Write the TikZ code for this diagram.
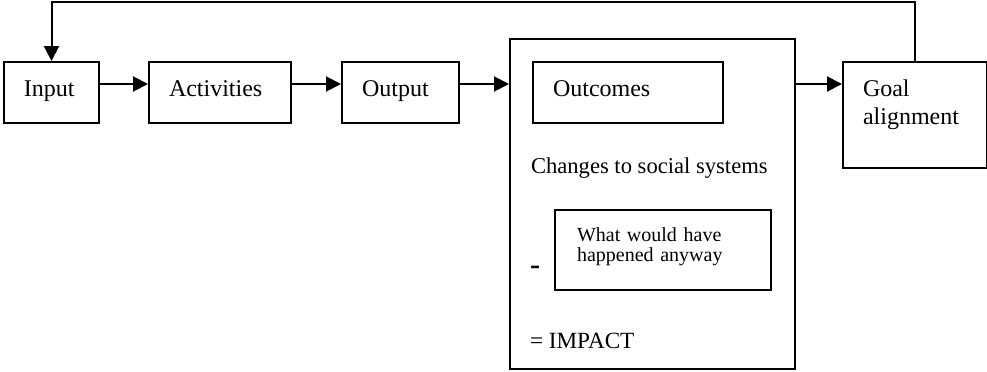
\documentclass[tikz,border=0pt]{standalone}
\usepackage{fontspec}
\setmainfont{Liberation Serif}
\usetikzlibrary{arrows.meta}

\begin{document}
\begin{tikzpicture}[x=0.5pt,y=-0.5pt,
  font=\fontsize{12}{14}\selectfont,
  line width=1pt,
  stage/.style={draw, anchor=north west, inner xsep=10pt, inner ysep=0pt,
    align=left, text height=17pt, text depth=13.5pt},
  note/.style={anchor=base west, inner sep=0pt},
  arr/.style={-{Triangle[length=7.5pt,width=7.5pt]}}]

\useasboundingbox (0,0) rectangle (987,371);

\node[stage, text width=27.5pt] (input) at (3,61) {Input};
\node[stage, text width=51pt] (activities) at (148,61) {Activities};
\node[stage, text width=38.5pt] (output) at (341,61) {Output};
\node[draw, anchor=north west, inner sep=0pt, minimum width=142.5pt,
  minimum height=165pt] (impact) at (509,38) {};
\node[stage, text width=75pt] (outcomes) at (532,61) {Outcomes};
\node[stage, text width=52pt, text depth=36pt] (goal) at (842,61) {Goal\\alignment};

\node[note, font=\fontsize{11.3}{13}\selectfont] (changes) at (530,173)
  {Changes to social systems};
\node[stage, text width=86pt, inner xsep=11pt, text height=15.5pt, text depth=24.5pt,
  font=\fontsize{10}{10}\selectfont] (anyway) at (554,209) {What would have\\happened anyway};
\node[inner sep=0pt, font=\fontsize{15}{15}\selectfont\bfseries] (minus) at (535,270.5) {-};
\node[note, font=\fontsize{11.6}{13}\selectfont] (result) at (529,348) {= IMPACT};

\coordinate (lane) at (0,84);
\coordinate (top) at (0,2);

\draw[arr] (input.east |- lane) -- (activities.west |- lane);
\draw[arr] (activities.east |- lane) -- (output.west |- lane);
\draw[arr] (output.east |- lane) -- (impact.west |- lane);
\draw[arr] (impact.east |- lane) -- (goal.west |- lane);
\draw[arr] (goal.north) -- (goal.north |- top) -| (input.north);

\end{tikzpicture}
\end{document}
